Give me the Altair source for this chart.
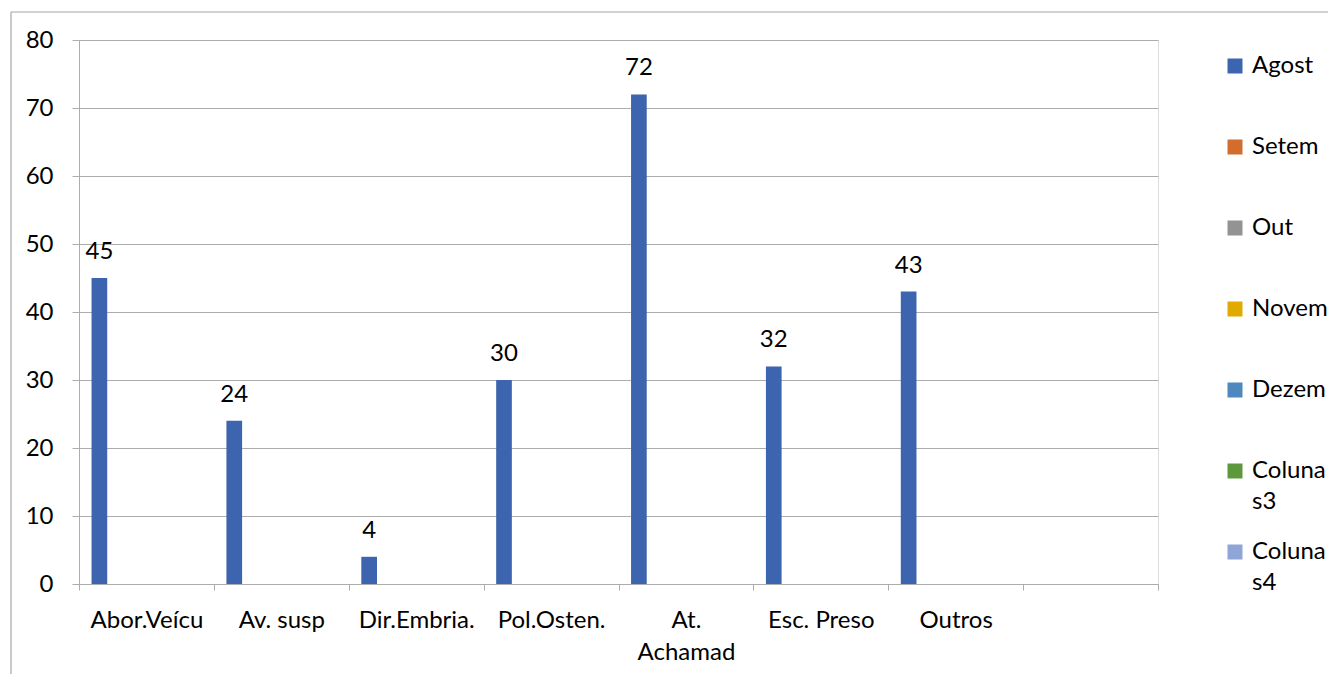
import altair as alt
import pandas as pd

categorias = ["Abor.Veícu", "Av. susp", "Dir.Embria.", "Pol.Osten.", "At. Achamad", "Esc. Preso", "Outros", " "]
series = ["Agost", "Setem", "Out", "Novem", "Dezem", "Colunas3", "Colunas4"]
cores = ["#3D65AF", "#D26D2D", "#939393", "#E0AA00", "#4F88BF", "#5E983D", "#8FA5D5"]
agost = [45, 24, 4, 30, 72, 32, 43]

df = pd.DataFrame({
    "cat": categorias[:7],
    "serie": ["Agost"] * 7,
    "valor": agost,
})

FONT = "Lato"
FS = 24
GRAY = "#ADADAD"

x_enc = alt.X(
    "cat:N",
    scale=alt.Scale(domain=categorias, paddingInner=0, paddingOuter=0),
    axis=alt.Axis(
        title=None, labelAngle=0, tickBand="extent", tickSize=6, tickColor=GRAY,
        domainColor=GRAY, labelFont=FONT, labelFontSize=FS, labelColor="#000000",
        labelPadding=18, labelLineHeight=32,
        labelExpr="datum.label == 'At. Achamad' ? ['At.', 'Achamad'] : datum.label",
    ),
)
xoff = alt.XOffset("serie:N", scale=alt.Scale(domain=series, paddingInner=0, paddingOuter=0.8))
y_enc = alt.Y(
    "valor:Q",
    scale=alt.Scale(domain=[0, 80]),
    axis=alt.Axis(
        title=None, values=list(range(0, 81, 10)), grid=True, gridColor=GRAY,
        tickSize=7, tickColor=GRAY, domainColor=GRAY, labelFont=FONT,
        labelFontSize=FS, labelColor="#000000", labelPadding=19,
    ),
)

bars = alt.Chart(df).mark_bar().encode(
    x=x_enc,
    xOffset=xoff,
    y=y_enc,
    color=alt.Color(
        "serie:N",
        scale=alt.Scale(domain=series, range=cores),
        legend=alt.Legend(
            title=None, orient="none", legendX=1144, legendY=14,
            symbolType="square", symbolSize=225, symbolStrokeWidth=0,
            labelFont=FONT, labelFontSize=FS, labelColor="#000000",
            gridAlign="all", rowPadding=26, labelOffset=5,
            labelExpr="datum.label == 'Colunas3' ? ['Coluna', 's3'] : datum.label == 'Colunas4' ? ['Coluna', 's4'] : datum.label",
        ),
    ),
)

labels = alt.Chart(df).mark_text(
    font=FONT, fontSize=FS, color="#000000", baseline="middle", dy=-26
).encode(
    x=alt.X("cat:N", scale=alt.Scale(domain=categorias, paddingInner=0, paddingOuter=0)),
    xOffset=xoff,
    y=alt.Y("valor:Q", scale=alt.Scale(domain=[0, 80])),
    text="valor:Q",
)

border_data = alt.Data(values=[{"a": 1}])
border_left = alt.Chart(border_data).mark_rule(color="#A6A6A6", strokeWidth=1.2).encode(
    x=alt.value(-68), y=alt.value(-28), y2=alt.value(700)
)
border_top = alt.Chart(border_data).mark_rule(color="#A6A6A6", strokeWidth=1.2).encode(
    x=alt.value(-68), x2=alt.value(1400), y=alt.value(-28)
)

chart = alt.layer(bars, labels, border_left, border_top).properties(
    width=1079, height=544,
    autosize=alt.AutoSizeParams(type="none"),
    padding={"left": 71, "top": 32, "right": 170, "bottom": 90},
).configure_view(stroke=None).configure(
    font=FONT, style={"guide-label": {"lineHeight": 31}}
)

chart.save("out.html", embed_options={"renderer": "svg", "actions": False})
